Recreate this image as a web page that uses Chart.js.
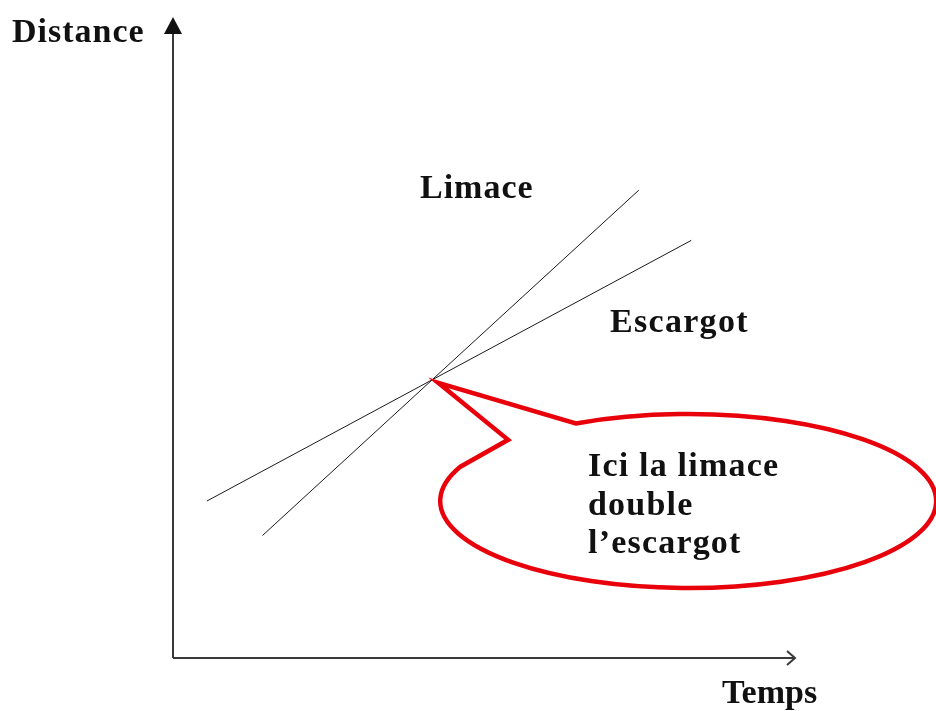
<!DOCTYPE html>
<html>
<head>
<meta charset="utf-8">
<script src="https://cdn.jsdelivr.net/npm/chart.js@4.4.1/dist/chart.umd.min.js"></script>
<style>
  html, body { margin: 0; padding: 0; background: #fff; }
  #wrap { width: 936px; height: 711px; }
</style>
</head>
<body>
<div id="wrap"><canvas id="chart" width="936" height="711"></canvas></div>
<script>
// values (arbitrary units, axes 0..10)
const seriesNames = ['Limace', 'Escargot'];
const limaceTemps = [1.45, 7.55];
const limaceDistance = [1.95, 7.45];
const escargotTemps = [0.55, 8.4];
const escargotDistance = [2.5, 6.65];
const axisTitles = ['Distance', 'Temps'];
const bubbleLines = ['Ici la limace', 'double', 'l\u2019escargot'];

const toPoints = (xs, ys) => xs.map((x, i) => ({ x, y: ys[i] }));

// where the two lines meet (tip of the callout)
const crossing = () => {
  const m1 = (limaceDistance[1] - limaceDistance[0]) / (limaceTemps[1] - limaceTemps[0]);
  const m2 = (escargotDistance[1] - escargotDistance[0]) / (escargotTemps[1] - escargotTemps[0]);
  const b1 = limaceDistance[0] - m1 * limaceTemps[0];
  const b2 = escargotDistance[0] - m2 * escargotTemps[0];
  const x = (b2 - b1) / (m1 - m2);
  return { x, y: m1 * x + b1 };
};

const FONT = 'bold 34px "Liberation Serif", "Times New Roman", serif';
const RED = '#e8000b';

const drawingPlugin = {
  id: 'drawing',
  afterDatasetsDraw(chart) {
    const { ctx, chartArea, scales } = chart;
    const xs = scales.x;
    const ys = scales.y;
    const left = chartArea.left;
    const bottom = chartArea.bottom;

    ctx.save();
    // axes
    ctx.strokeStyle = '#3a3a3a';
    ctx.fillStyle = '#111';
    ctx.lineWidth = 2;
    ctx.beginPath();
    ctx.moveTo(left, bottom);
    ctx.lineTo(left, chartArea.top);
    ctx.moveTo(left, bottom);
    ctx.lineTo(chartArea.right + 4, bottom);
    ctx.stroke();
    // y arrow (filled)
    ctx.beginPath();
    ctx.moveTo(left, chartArea.top - 13);
    ctx.lineTo(left - 9, chartArea.top + 4);
    ctx.lineTo(left + 9, chartArea.top + 4);
    ctx.closePath();
    ctx.fill();
    // x arrow (open)
    ctx.beginPath();
    ctx.moveTo(chartArea.right - 3, bottom - 7);
    ctx.lineTo(chartArea.right + 5, bottom);
    ctx.lineTo(chartArea.right - 3, bottom + 7);
    ctx.stroke();

    // callout bubble
    const tip = crossing();
    const tx = xs.getPixelForValue(tip.x) + 6;
    const ty = ys.getPixelForValue(tip.y) + 3;
    const cx = xs.getPixelForValue(8.35);
    const cy = ys.getPixelForValue(2.5);
    const rx = 248;
    const ry = 87;
    const a1 = Math.atan2(-0.40, -0.94);
    const a2 = Math.atan2(-0.885, -0.45);
    ctx.beginPath();
    ctx.moveTo(tx, ty);
    ctx.lineTo(tx + 70, ty + 57);
    ctx.lineTo(cx + rx * Math.cos(a1), cy + ry * Math.sin(a1));
    ctx.ellipse(cx, cy, rx, ry, 0, a1, a2, true);
    ctx.closePath();
    ctx.fillStyle = '#fff';
    ctx.fill();
    ctx.strokeStyle = RED;
    ctx.lineWidth = 4.5;
    ctx.lineJoin = 'miter';
    ctx.stroke();

    // texts
    ctx.fillStyle = '#111';
    ctx.font = FONT;
    ctx.textBaseline = 'alphabetic';
    ctx.textAlign = 'left';
    ctx.letterSpacing = '1px';
    ctx.fillText(axisTitles[0], 12, 42);
    ctx.fillText(seriesNames[0], 420, 198);
    ctx.letterSpacing = '1.3px';
    ctx.fillText(seriesNames[1], 610, 332);
    ctx.letterSpacing = '0px';
    ctx.fillText(axisTitles[1], 722, 703);
    ctx.letterSpacing = '1.2px';
    bubbleLines.forEach((line, i) => {
      ctx.fillText(line, 588, 476 + i * 38.5);
    });
    ctx.restore();
  }
};

new Chart(document.getElementById('chart'), {
  type: 'scatter',
  data: {
    datasets: [
      {
        label: seriesNames[0],
        data: toPoints(limaceTemps, limaceDistance),
        showLine: true,
        borderColor: '#1a1a1a',
        borderWidth: 1,
        pointRadius: 0
      },
      {
        label: seriesNames[1],
        data: toPoints(escargotTemps, escargotDistance),
        showLine: true,
        borderColor: '#1a1a1a',
        borderWidth: 1,
        pointRadius: 0
      }
    ]
  },
  options: {
    responsive: false,
    animation: false,
    layout: { padding: { left: 173, right: 146, top: 30, bottom: 53 } },
    plugins: {
      legend: { display: false },
      tooltip: { enabled: false }
    },
    scales: {
      x: { type: 'linear', min: 0, max: 10, display: false },
      y: { type: 'linear', min: 0, max: 10, display: false }
    }
  },
  plugins: [drawingPlugin]
});
</script>
</body>
</html>
